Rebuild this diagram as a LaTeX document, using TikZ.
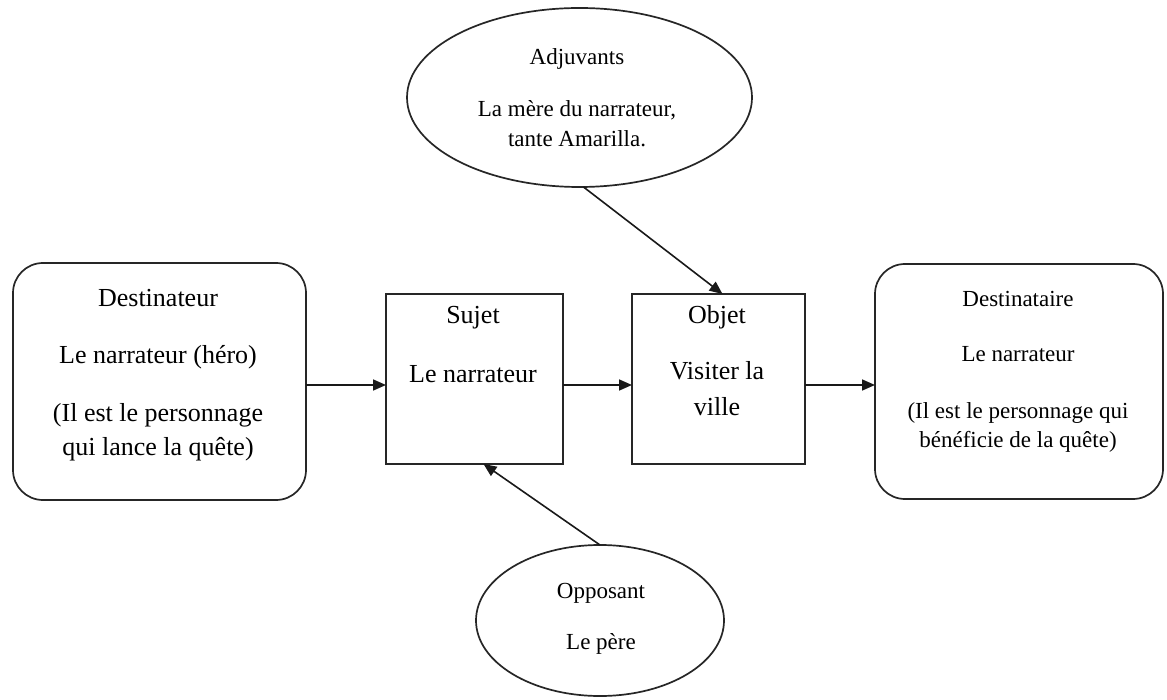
\documentclass[tikz,border=0pt]{standalone}
\usepackage{fontspec}
\setmainfont{Liberation Serif}
\usetikzlibrary{arrows.meta,shapes.geometric}
\begin{document}
\begin{tikzpicture}[x=1pt,y=-1pt,
  shapeline/.style={draw=black!85,line width=1.7pt,inner sep=0pt,outer sep=0pt},
  roundbox/.style={shapeline,rectangle,rounded corners=30pt},
  sqbox/.style={shapeline,rectangle},
  oval/.style={shapeline,ellipse},
  arr/.style={draw=black!90,line width=1.6pt,-{Triangle[length=13pt,width=11pt]}},
  big/.style={anchor=base,inner sep=0pt,font=\fontsize{26}{30}\selectfont},
  small/.style={anchor=base,inner sep=0pt,font=\fontsize{23}{27}\selectfont}]
\useasboundingbox[fill=white] (0,0) rectangle (1167,700);

% shapes
\node[roundbox,minimum width=293pt,minimum height=237pt] (dest) at (159.5,381.5) {};
\node[sqbox,minimum width=177pt,minimum height=170pt] (suj) at (474.5,379) {};
\node[sqbox,minimum width=173pt,minimum height=170pt] (obj) at (718.5,379) {};
\node[roundbox,minimum width=288pt,minimum height=235pt] (dire) at (1019,381.5) {};
\node[oval,minimum width=345pt,minimum height=179pt] (adj) at (579.5,97.5) {};
\node[oval,minimum width=248pt,minimum height=151pt] (opp) at (600,620.5) {};

% texts
\node[big] (t1) at (158,307) {Destinateur};
\node[big] (t2) at (158,364) {Le narrateur (héro)};
\node[big] (t3) at (158,421) {(Il est le personnage};
\node[big] (t4) at (158,455) {qui lance la quête)};

\node[big] (t5) at (473,324) {Sujet};
\node[big] (t6) at (473,382) {Le narrateur};

\node[big] (t7) at (717,324) {Objet};
\node[big] (t8) at (717,380) {Visiter la};
\node[big] (t9) at (717,415) {ville};

\node[small] (t10) at (1018,307) {Destinataire};
\node[small] (t11) at (1018,362) {Le narrateur};
\node[small] (t12) at (1018,418) {(Il est le personnage qui};
\node[small] (t13) at (1018,447) {bénéficie de la quête)};

\node[small] (t14) at (577,65) {Adjuvants};
\node[small] (t15) at (577,117) {La mère du narrateur,};
\node[small] (t16) at (577,147) {tante Amarilla.};

\node[small] (t17) at (601,598) {Opposant};
\node[small] (t18) at (601,649) {Le père};

% connectors
\coordinate (row) at (0,385);
\draw[arr] (dest.east |- row) -- (suj.west |- row);
\draw[arr] (suj.east |- row) -- (obj.west |- row);
\draw[arr] (obj.east |- row) -- (dire.west |- row);
\draw[arr] ([xshift=4pt]adj.south) -- ([xshift=4pt]obj.north);
\draw[arr] (opp.north) -- ([xshift=9pt]suj.south);
\end{tikzpicture}
\end{document}
